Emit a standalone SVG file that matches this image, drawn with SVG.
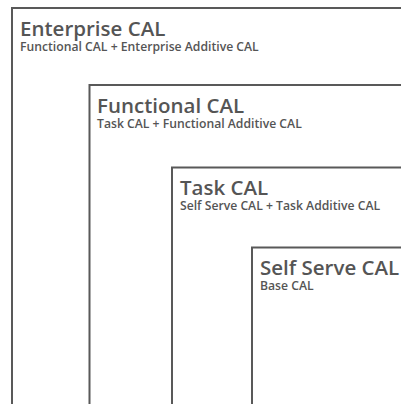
<svg xmlns="http://www.w3.org/2000/svg" width="401" height="404" viewBox="0 0 401 404">
<style>
.box{fill:#fff;stroke:#595959;stroke-width:2}
.t{font-family:"Open Sans","Noto Sans",sans-serif;font-size:20.5px;font-weight:600;fill:#555}
.s{font-family:"Open Sans","Noto Sans",sans-serif;font-size:12.2px;font-weight:600;fill:#555}
</style>
<rect width="401" height="404" fill="#fff"/>
<g id="enterprise">
<rect class="box" x="12" y="8" width="420" height="420"/>
<text class="t" x="20" y="35.5">Enterprise CAL</text>
<text class="s" x="20" y="50.5">Functional CAL + Enterprise Additive CAL</text>
</g>
<g id="functional">
<rect class="box" x="89.5" y="85" width="420" height="420"/>
<text class="t" x="97" y="112.5">Functional CAL</text>
<text class="s" x="97" y="127.5">Task CAL + Functional Additive CAL</text>
</g>
<g id="task">
<rect class="box" x="172" y="167.5" width="420" height="420"/>
<text class="t" x="180" y="195">Task CAL</text>
<text class="s" x="180" y="210">Self Serve CAL + Task Additive CAL</text>
</g>
<g id="selfserve">
<rect class="box" x="252" y="247.5" width="420" height="420"/>
<text class="t" x="260" y="275">Self Serve CAL</text>
<text class="s" x="260" y="290">Base CAL</text>
</g>
<g id="connectors"/>
</svg>
